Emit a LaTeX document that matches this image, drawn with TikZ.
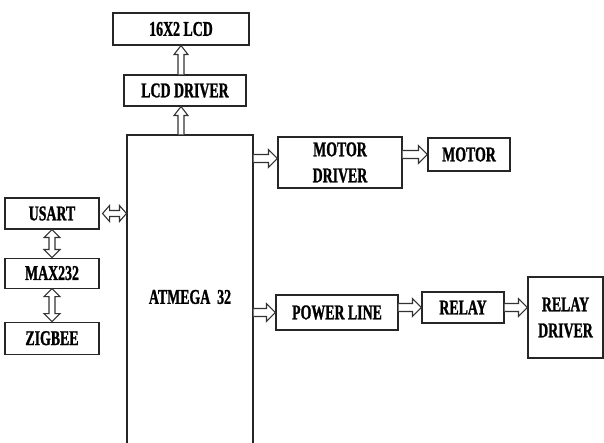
\documentclass[tikz,border=0pt]{standalone}
\usepackage{fontspec}
\setmainfont{Liberation Serif}[FakeStretch=0.66, FakeBold=1.2]
\usetikzlibrary{calc}
\usetikzlibrary{positioning}

% hollow block arrows
\newcommand{\rarrow}[2]{%
  \draw[hollow] ($(#1)+(0,-4)$) -- ($(#2)+(-9,-4)$) -- ($(#2)+(-9,-9)$) -- (#2)
    -- ($(#2)+(-9,9)$) -- ($(#2)+(-9,4)$) -- ($(#1)+(0,4)$);}
\newcommand{\uarrow}[2]{%
  \draw[hollow] ($(#1)+(-3,0)$) -- ($(#2)+(-3,9)$) -- ($(#2)+(-7,9)$) -- (#2)
    -- ($(#2)+(7,9)$) -- ($(#2)+(3,9)$) -- ($(#1)+(3,0)$);}
\newcommand{\varrowboth}[2]{%
  \draw[hollow] (#1) -- ($(#1)+(8,8)$) -- ($(#1)+(3,8)$) -- ($(#2)+(3,-8)$) -- ($(#2)+(8,-8)$) -- (#2)
    -- ($(#2)+(-8,-8)$) -- ($(#2)+(-3,-8)$) -- ($(#1)+(-3,8)$) -- ($(#1)+(-8,8)$) -- cycle;}
\newcommand{\harrowboth}[2]{%
  \draw[hollow] (#1) -- ($(#1)+(7,-8)$) -- ($(#1)+(7,-3)$) -- ($(#2)+(-7,-3)$) -- ($(#2)+(-7,-8)$) -- (#2)
    -- ($(#2)+(-7,8)$) -- ($(#2)+(-7,3)$) -- ($(#1)+(7,3)$) -- ($(#1)+(7,8)$) -- cycle;}

\begin{document}
\begin{tikzpicture}[x=1pt, y=-1pt, node distance=28pt, font=\bfseries\fontsize{21}{26}\selectfont]
		\tikzstyle{block}=[draw=black!85, line width=1.1pt, rectangle, fill=none, inner sep=0pt, align=center]
		\tikzstyle{hollow}=[draw=black!80, line width=1.1pt, fill=white, line join=miter]
		\useasboundingbox (0,0) rectangle (604,443);
		\clip (0,0) rectangle (604,443);
		
		\node[block, minimum width=126pt, minimum height=324pt] (atmega) at (190,297) {ATMEGA\ \ 32};
		\node[block, minimum width=122pt, minimum height=31pt] (lcddrv) at (185,90.5) {LCD DRIVER};
		\node[block, minimum width=136pt, minimum height=32pt] (lcd) at (181,29) {16X2 LCD};
		\node[block, minimum width=124pt, minimum height=51pt] (mdrv) at (340,162.5) {MOTOR\\DRIVER};
		\node[block, minimum width=82pt, minimum height=33pt] (motor) at (469,154.5) {MOTOR};
		\node[block, minimum width=94pt, minimum height=31pt] (usart) at (52,213.5) {USART};
		\node[block, minimum width=94pt, minimum height=30pt, below=28pt of usart] (max) {MAX232};
		\node[block, minimum width=94pt, minimum height=32pt, below=33pt of max] (zigbee) {ZIGBEE};
		\node[block, minimum width=122pt, minimum height=35pt] (pwr) at (337,312.5) {POWER LINE};
		\node[block, minimum width=82pt, minimum height=31pt] (relay) at (463,307.5) {RELAY};
		\node[block, minimum width=75pt, minimum height=81pt] (rdrv) at (565.5,317.5) {RELAY\\DRIVER};
		
		\coordinate (u1) at ($(usart.east)+(3,0)$);
		\coordinate (m1) at ($(mdrv.west)+(0,-4)$);
		
		\uarrow{atmega.north -| lcd}{lcddrv.south -| lcd}
		\uarrow{lcddrv.north -| lcd}{lcd.south}
		\harrowboth{u1}{atmega.west |- u1}
		\varrowboth{usart.south}{max.north}
		\varrowboth{max.south}{zigbee.north}
		\rarrow{atmega.east |- m1}{m1}
		\rarrow{mdrv.east |- motor.west}{motor.west}
		\rarrow{atmega.east |- pwr.west}{pwr.west}
		\rarrow{pwr.east |- relay.west}{relay.west}
		\rarrow{relay.east}{rdrv.west |- relay.east}
\end{tikzpicture}
\end{document}
